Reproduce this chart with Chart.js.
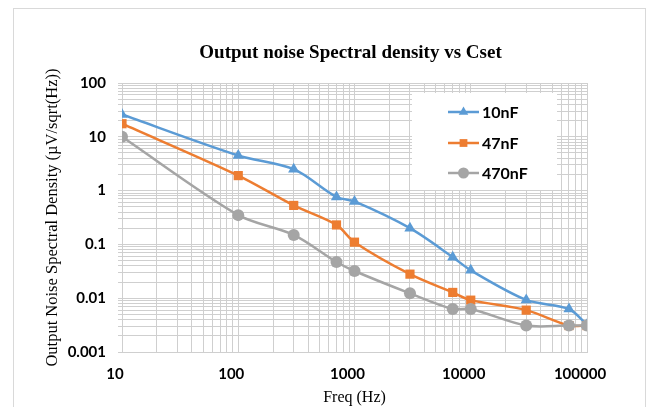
<!DOCTYPE html>
<html>
<head>
<meta charset="utf-8">
<script src="https://cdn.jsdelivr.net/npm/chart.js@4.4.1/dist/chart.umd.min.js"></script>
<style>
  html, body { margin: 0; padding: 0; background: #fff; }
  #wrap { width: 647px; height: 407px; position: relative; }
</style>
</head>
<body>
<div id="wrap"><canvas id="myChart" width="647" height="407"></canvas></div>
<script>
// frequencies (Hz) and noise density values (uV/sqrt(Hz))
const freq = [10, 100, 300, 700, 1000, 3000, 7000, 10000, 30000, 70000, 100000];
const noise10nF  = [26, 4.5, 2.5, 0.76, 0.63, 0.2, 0.058, 0.033, 0.0093, 0.0063, 0.0032];
const noise47nF  = [17.5, 1.9, 0.53, 0.23, 0.11, 0.028, 0.0128, 0.0092, 0.006, 0.0031, 0.0031];
const noise470nF = [10, 0.35, 0.15, 0.047, 0.032, 0.0123, 0.0063, 0.0063, 0.0031, 0.0031, 0.0031];

const seriesNames = ['10nF', '47nF', '470nF'];
const xTickLabels = ['10', '100', '1000', '10000', '100000'];
const yTickLabels = ['0.001', '0.01', '0.1', '1', '10', '100'];
const chartTitle = 'Output noise Spectral density vs Cset';

const serif = "'Liberation Serif', 'Times New Roman', serif";
const sans = "Lato, 'Open Sans', sans-serif";

function pts(ys) {
    return freq.map((f, i) => ({x: f, y: ys[i]}));
}

// ticks at 1..9 of every decade, labels only on the decades
function logTicks(labels) {
    return function(scale) {
        const ticks = [];
        for (let i = 0; i < labels.length - 1; i++) {
            const v = Number(labels[i]);
            for (let k = 1; k < 10; k++) ticks.push({value: v * k});
        }
        ticks.push({value: Number(labels[labels.length - 1])});
        scale.ticks = ticks;
    };
}
function logLabel(labels) {
    return function(value) {
        const hit = labels.find(l => Math.abs(Math.log10(Number(l)) - Math.log10(value)) < 1e-9);
        return hit === undefined ? '' : hit;
    };
}

// outer frame + title, centred over the plot like the excel original
const framePlugin = {
    id: 'frame',
    beforeDraw(chart) {
        const ctx = chart.ctx;
        const area = chart.chartArea;
        ctx.save();
        ctx.fillStyle = '#fff';
        ctx.fillRect(0, 0, chart.width, chart.height);
        ctx.strokeStyle = '#d9d9d9';
        ctx.lineWidth = 1;
        ctx.strokeRect(13.5, 8.5, 632, 420);
        ctx.fillStyle = '#000';
        ctx.font = 'bold 19px ' + serif;
        ctx.textAlign = 'center';
        ctx.textBaseline = 'middle';
        ctx.fillText(chartTitle, (area.left + area.right) / 2 - 4, 53);
        ctx.restore();
    }
};

// legend box inside the plot area
const legendBox = {
    id: 'legendBox',
    beforeDatasetsDraw(chart) {
        const ctx = chart.ctx;
        ctx.save();
        ctx.fillStyle = '#fff';
        ctx.fillRect(412, 93, 145, 97);
        const rows = [112, 143, 173];
        chart.data.datasets.forEach((ds, i) => {
            const y = rows[i];
            ctx.strokeStyle = ds.borderColor;
            ctx.lineWidth = 2.5;
            ctx.beginPath();
            ctx.moveTo(448, y);
            ctx.lineTo(479, y);
            ctx.stroke();
            ctx.fillStyle = ds.backgroundColor;
            Chart.helpers.drawPoint(ctx, {pointStyle: ds.pointStyle, rotation: 0, radius: 5.5, borderWidth: 0}, 463.5, y);
            ctx.fillStyle = '#000';
            ctx.font = 'bold 16px ' + sans;
            ctx.textBaseline = 'middle';
            ctx.textAlign = 'left';
            ctx.fillText(seriesNames[i], 482, y + 1);
        });
        ctx.restore();
    }
};

const ctx = document.getElementById('myChart');

new Chart(ctx, {
    type: 'line',
    data: {
        datasets: [{
            label: seriesNames[0],
            data: pts(noise10nF),
            borderColor: '#5b9bd5',
            backgroundColor: '#5b9bd5',
            pointStyle: 'triangle',
            pointRadius: 6.5,
            order: 3
        }, {
            label: seriesNames[1],
            data: pts(noise47nF),
            borderColor: '#ed7d31',
            backgroundColor: '#ed7d31',
            pointStyle: 'rect',
            pointRadius: 6.5,
            order: 2
        }, {
            label: seriesNames[2],
            data: pts(noise470nF),
            borderColor: '#a5a5a5',
            backgroundColor: '#a5a5a5',
            pointStyle: 'circle',
            pointRadius: 6,
            order: 1
        }]
    },
    options: {
        responsive: false,
        animation: false,
        layout: { padding: { left: 0, right: 60, top: 83, bottom: 0 } },
        elements: {
            line: { borderWidth: 2.5, tension: 0.3 },
            point: { borderWidth: 0, hoverRadius: 6 }
        },
        scales: {
            x: {
                type: 'logarithmic',
                min: 10,
                max: 100000,
                afterBuildTicks: logTicks(xTickLabels),
                afterFit(scale) { scale.height = 55; },
                grid: { color: '#cfcfcf', lineWidth: 1, drawTicks: false },
                border: { color: '#cfcfcf' },
                ticks: {
                    autoSkip: false,
                    maxRotation: 0,
                    padding: 13,
                    labelOffset: -7,
                    color: '#000',
                    font: { family: sans, size: 15, weight: 'bold' },
                    callback: logLabel(xTickLabels)
                },
                title: {
                    display: true,
                    text: 'Freq (Hz)',
                    color: '#000',
                    font: { family: serif, size: 16 },
                    padding: { top: 0, bottom: 0 }
                }
            },
            y: {
                type: 'logarithmic',
                min: 0.001,
                max: 100,
                afterBuildTicks: logTicks(yTickLabels),
                afterFit(scale) { scale.width = 122; },
                grid: { color: '#cfcfcf', lineWidth: 1, drawTicks: true, tickLength: 4 },
                border: { color: '#cfcfcf' },
                ticks: {
                    autoSkip: false,
                    padding: 12,
                    color: '#000',
                    font: { family: sans, size: 15, weight: 'bold' },
                    callback: logLabel(yTickLabels)
                },
                title: {
                    display: true,
                    text: 'Output Noise Spectral Density (µV/sqrt(Hz))',
                    color: '#000',
                    font: { family: serif, size: 16.5 },
                    padding: { top: 43, bottom: 0 }
                }
            }
        },
        plugins: {
            legend: { display: false },
            tooltip: { enabled: false },
            title: { display: false }
        }
    },
    plugins: [framePlugin, legendBox]
});
</script>
</body>
</html>
